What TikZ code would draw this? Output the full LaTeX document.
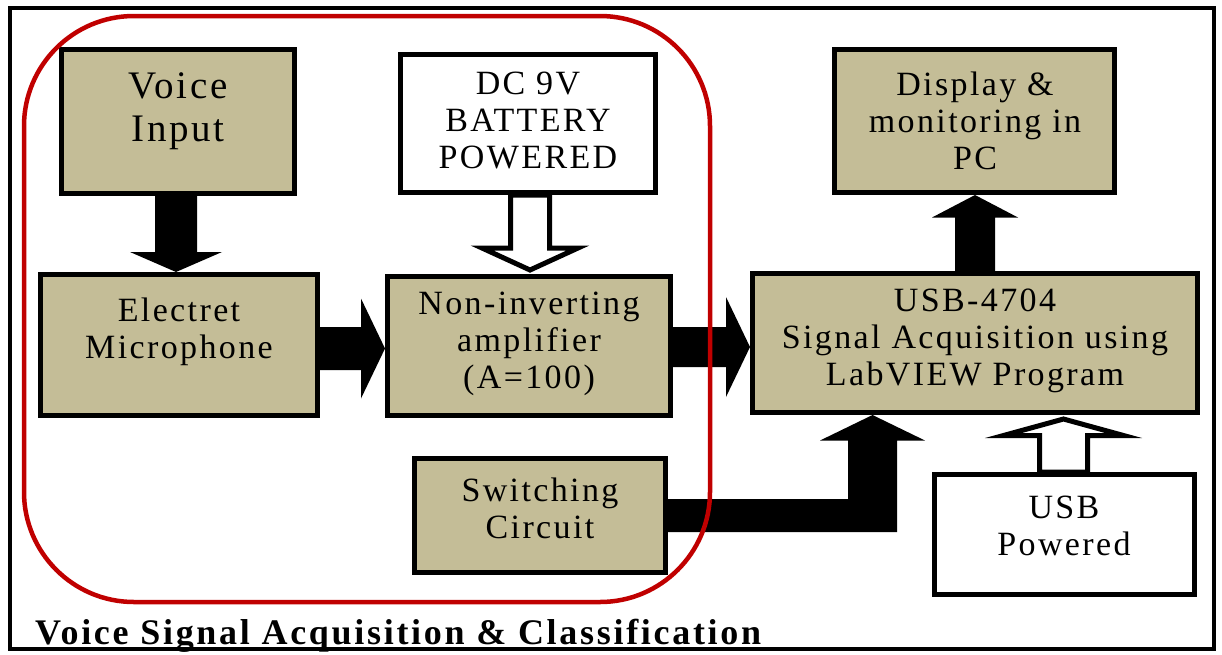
\documentclass[tikz,border=0pt]{standalone}
\usepackage{fontspec}
\setmainfont{Liberation Serif}
\newfontfamily\labfont{Liberation Serif}[LetterSpace=7]
\newfontfamily\titlefont{Liberation Serif}[LetterSpace=7.5]
\usetikzlibrary{calc}
\definecolor{tanfill}{HTML}{C4BD97}
\definecolor{redline}{HTML}{C00000}
\begin{document}
\begin{tikzpicture}[x=1pt,y=1pt,
  box/.style={draw=black, line width=5pt, fill=tanfill, inner sep=0pt},
  wbox/.style={box, fill=white},
  lab/.style={font=\labfont\fontsize{34}{37}\selectfont, align=center, inner sep=0pt},
  biglab/.style={font=\labfont\fontsize{39}{43}\selectfont, align=center, inner sep=0pt},
  blk/.style={fill=black},
  hollow/.style={draw=black, fill=white, line width=5pt}]
\useasboundingbox (0,0) rectangle (1222,-654);
\draw[line width=4pt] (10,-8) rectangle (1214,-649);

% boxes (positions only)
\path
  (178,-121.5) node[box, minimum width=233, minimum height=144] (voice) {}
  (179,-345)   node[box, minimum width=277, minimum height=141] (elec) {}
  (529,-346)   node[box, minimum width=283, minimum height=139] (amp) {}
  (528,-123.5) node[wbox, minimum width=255, minimum height=138] (bat) {}
  (540,-515.5) node[box, minimum width=251, minimum height=114] (sw) {}
  (975,-343)   node[box, minimum width=445, minimum height=139] (usb) {}
  (974.5,-121) node[box, minimum width=280, minimum height=143] (disp) {}
  (1064.5,-534.5) node[wbox, minimum width=260, minimum height=120] (pow) {};

% connectors
\fill[blk] let \p1=(voice.south), \p2=(elec.north) in
  (\x1-23,\y1) -- (\x1+19,\y1) -- (\x1+19,\y2+20) -- (\x1+44,\y2+20) -- (\x1-2,\y2) -- (\x1-48,\y2+20) -- (\x1-23,\y2+20) -- cycle;
\fill[blk] let \p1=(elec.east), \p2=(amp.west) in
  (\x1,\y1-3.5+21.5) -- (\x2-24,\y1-3.5+21.5) -- (\x2-24,\y1-3.5+50) -- (\x2,\y1-3.5) -- (\x2-24,\y1-3.5-50) -- (\x2-24,\y1-3.5-21.5) -- (\x1,\y1-3.5-21.5) -- cycle;
\fill[blk] let \p1=(amp.east), \p2=(usb.west) in
  (\x1,\y1-1+20) -- (\x2-24,\y1-1+20) -- (\x2-24,\y1-1+50) -- (\x2,\y1-1) -- (\x2-24,\y1-1-50) -- (\x2-24,\y1-1-20) -- (\x1,\y1-1-20) -- cycle;
\fill[blk] let \p1=(usb.north), \p2=(disp.south) in
  (\x1-20,\y1) -- (\x1+20,\y1) -- (\x1+20,\y2-22.5) -- (\x1+43,\y2-22.5) -- (\x1,\y2) -- (\x1-43,\y2-22.5) -- (\x1-20,\y2-22.5) -- cycle;
\fill[blk] let \p1=(sw.east), \p2=(usb.south) in
  (\x1,\y1+16.5) -- (848,\y1+16.5) -- (848,\y2-25.5) -- (820,\y2-25.5) -- (872.5,\y2) -- (925,\y2-25.5) -- (897,\y2-25.5) -- (897,\y1-16.5) -- (\x1,\y1-16.5) -- cycle;
\filldraw[hollow] let \p1=(bat.south), \p2=(amp.north) in
  (\x1+2-19.5,\y1) -- (\x1+2+19.5,\y1) -- (\x1+2+19.5,\y2+26) -- (\x1+2+48,\y2+26) -- (\x1+2,\y2+4) -- (\x1+2-48,\y2+26) -- (\x1+2-19.5,\y2+26) -- cycle;
\filldraw[hollow] let \p1=(pow.north), \p2=(usb.south) in
  (\x1-1-24,\y1) -- (\x1-1+24,\y1) -- (\x1-1+24,\y2-20.5) -- (\x1-1+60,\y2-20.5) -- (\x1-1,\y2-4) -- (\x1-1-60,\y2-20.5) -- (\x1-1-24,\y2-20.5) -- cycle;

% redraw boxes on top
\path
  (178,-121.5) node[box, minimum width=233, minimum height=144] {}
  (179,-345)   node[box, minimum width=277, minimum height=141] {}
  (529,-346)   node[box, minimum width=283, minimum height=139] {}
  (528,-123.5) node[wbox, minimum width=255, minimum height=138] {}
  (540,-515.5) node[box, minimum width=251, minimum height=114] {}
  (975,-343)   node[box, minimum width=445, minimum height=139] {}
  (974.5,-121) node[box, minimum width=280, minimum height=143] {}
  (1064.5,-534.5) node[wbox, minimum width=260, minimum height=120] {};

% labels
\node[biglab] (voicet) at (178,-111) {Voice\\Input};
\node[lab] (elect) at (179,-332) {Electret\\Microphone};
\node[lab] (ampt) at (529,-344) {Non-inverting\\amplifier\\(A=100)};
\node[lab] (batt) at (528,-120) {DC 9V\\BATTERY\\POWERED};
\node[lab] (swt) at (540,-508.5) {Switching\\Circuit};
\node[lab] (usbt) at (975,-341) {USB-4704\\Signal Acquisition using\\LabVIEW Program};
\node[lab] (dispt) at (975,-121) {Display \&\\monitoring in\\PC};
\node[lab] (powt) at (1064,-525.5) {USB\\Powered};

% group outline
\draw[redline, line width=4.5pt, rounded corners=110pt] (24,-16) rectangle (710,-602);

\node[anchor=base west, inner sep=0pt, font=\titlefont\bfseries\fontsize{36}{38}\selectfont] (title) at (35,-644) {Voice Signal Acquisition \& Classification};
\end{tikzpicture}
\end{document}
